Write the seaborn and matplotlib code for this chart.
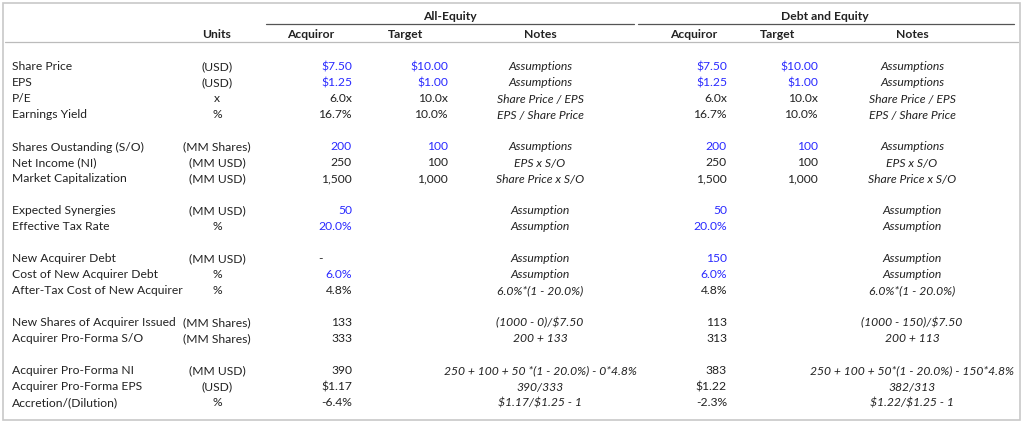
import matplotlib
matplotlib.use("Agg")
import matplotlib.pyplot as plt
import seaborn as sns

sns.set_theme(style="white", font="Lato")
plt.rcParams["text.parse_math"] = False

labels = ["Share Price", "EPS", "P/E", "Earnings Yield", "",
          "Shares Oustanding (S/O)", "Net Income (NI)", "Market Capitalization", "",
          "Expected Synergies", "Effective Tax Rate", "",
          "New Acquirer Debt", "Cost of New Acquirer Debt", "After-Tax Cost of New Acquirer", "",
          "New Shares of Acquirer Issued", "Acquirer Pro-Forma S/O", "",
          "Acquirer Pro-Forma NI", "Acquirer Pro-Forma EPS", "Accretion/(Dilution)"]
units = ["(USD)", "(USD)", "x", "%", "",
         "(MM Shares)", "(MM USD)", "(MM USD)", "",
         "(MM USD)", "%", "",
         "(MM USD)", "%", "%", "",
         "(MM Shares)", "(MM Shares)", "",
         "(MM USD)", "(USD)", "%"]
eq_acq = ["$7.50", "$1.25", "6.0x", "16.7%", "", "200", "250", "1,500", "", "50", "20.0%", "",
          "-", "6.0%", "4.8%", "", "133", "333", "", "390", "$1.17", "-6.4%"]
eq_tgt = ["$10.00", "$1.00", "10.0x", "10.0%", "", "100", "100", "1,000", "", "", "", "",
          "", "", "", "", "", "", "", "", "", ""]
eq_notes = ["Assumptions", "Assumptions", "Share Price / EPS", "EPS / Share Price", "",
            "Assumptions", "EPS x S/O", "Share Price x S/O", "",
            "Assumption", "Assumption", "",
            "Assumption", "Assumption", "6.0%*(1 - 20.0%)", "",
            "(1000 - 0)/$7.50", "200 + 133", "",
            "250 + 100 + 50 *(1 - 20.0%) - 0*4.8%", "390/333", "$1.17/$1.25 - 1"]
de_acq = ["$7.50", "$1.25", "6.0x", "16.7%", "", "200", "250", "1,500", "", "50", "20.0%", "",
          "150", "6.0%", "4.8%", "", "113", "313", "", "383", "$1.22", "-2.3%"]
de_tgt = eq_tgt
de_notes = ["Assumptions", "Assumptions", "Share Price / EPS", "EPS / Share Price", "",
            "Assumptions", "EPS x S/O", "Share Price x S/O", "",
            "Assumption", "Assumption", "",
            "Assumption", "Assumption", "6.0%*(1 - 20.0%)", "",
            "(1000 - 150)/$7.50", "200 + 113", "",
            "250 + 100 + 50*(1 - 20.0%) - 150*4.8%", "382/313", "$1.22/$1.25 - 1"]
blue_rows = {0, 1, 5, 9, 10, 12, 13}

W, H = 1024, 424
fig = plt.figure(figsize=(10.24, 4.24), dpi=100)
ax = fig.add_axes([0, 0, 1, 1])
ax.set_xlim(0, W)
ax.set_ylim(H, 0)
ax.axis("off")

BLUE = "#2a2aff"
TXT = "#222222"
fs = 8.7

ax.add_patch(plt.Rectangle((3, 3), 1017, 417, fill=False, ec="#c8c8c8", lw=1.2))
ax.plot([266, 634], [24, 24], color="#555555", lw=0.9)
ax.plot([638, 1014], [24, 24], color="#555555", lw=0.9)
ax.plot([5, 1018], [42, 42], color="#bbbbbb", lw=0.9)

ax.text(450, 17, "All-Equity", ha="center", va="center", fontsize=fs, weight="bold", color=TXT)
ax.text(825, 17, "Debt and Equity", ha="center", va="center", fontsize=fs, weight="bold", color=TXT)
for x, t in [(217, "Units"), (311, "Acquiror"), (405, "Target"), (540, "Notes"),
             (694, "Acquiror"), (777, "Target"), (912, "Notes")]:
    ax.text(x, 35, t, ha="center", va="center", fontsize=fs, weight="bold", color=TXT)

y0, dy = 67, 16.0
for i in range(len(labels)):
    y = y0 + i * dy
    if not labels[i]:
        continue
    col = BLUE if i in blue_rows else TXT
    ax.text(12, y, labels[i], ha="left", va="center", fontsize=fs, color=TXT)
    ax.text(217, y, units[i], ha="center", va="center", fontsize=fs, color=TXT)
    if eq_acq[i] == "-":
        ax.text(320, y, eq_acq[i], ha="center", va="center", fontsize=fs, color=TXT)
    else:
        ax.text(352, y, eq_acq[i], ha="right", va="center", fontsize=fs, color=col)
    ax.text(448, y, eq_tgt[i], ha="right", va="center", fontsize=fs, color=col)
    ax.text(540, y, eq_notes[i], ha="center", va="center", fontsize=fs, style="italic", color=TXT)
    ax.text(727, y, de_acq[i], ha="right", va="center", fontsize=fs, color=col)
    ax.text(818, y, de_tgt[i], ha="right", va="center", fontsize=fs, color=col)
    ax.text(912, y, de_notes[i], ha="center", va="center", fontsize=fs, style="italic", color=TXT)

fig.savefig("out.png", dpi=100, facecolor="white")
